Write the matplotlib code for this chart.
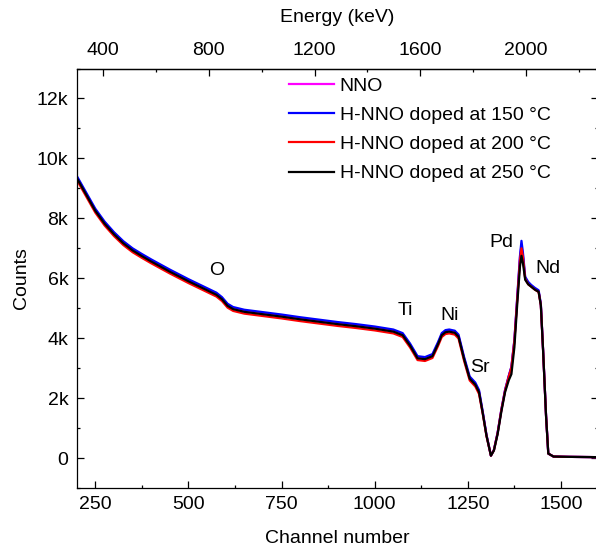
import matplotlib
matplotlib.use("Agg")
import matplotlib.pyplot as plt
from matplotlib.ticker import MultipleLocator

plt.rcParams['font.family'] = ['Liberation Sans', 'DejaVu Sans']
plt.rcParams['font.size'] = 14

# Channel positions
channel = [200, 225, 250, 275, 300, 325, 350, 375, 400, 450, 500, 550, 575, 590, 605, 620,
           650, 700, 750, 800, 850, 900, 950, 1000, 1050, 1075, 1095, 1115, 1135, 1155, 1170,
           1180, 1190, 1200, 1215, 1225, 1240, 1255, 1270, 1280, 1290, 1300, 1312, 1320, 1330,
           1340, 1350, 1360, 1367, 1375, 1383, 1390, 1394, 1398, 1404, 1412, 1420, 1430, 1440,
           1446, 1452, 1460, 1466, 1480, 1520, 1600]

nno = [9380, 8830, 8280, 7850, 7500, 7200, 6960, 6770, 6590, 6250, 5930, 5630, 5480, 5330, 5110, 5000,
       4910, 4830, 4750, 4660, 4580, 4500, 4430, 4350, 4250, 4130, 3780, 3360, 3330, 3430, 3830,
       4130, 4230, 4250, 4210, 4080, 3330, 2680, 2480, 2230, 1520, 770, 80, 270, 840,
       1610, 2260, 2740, 3040, 3920, 5400, 6700, 7100, 6750, 6000, 5840, 5750, 5650, 5570,
       5120, 3610, 1410, 150, 50, 40, 30]

hnno_150 = [9420, 8870, 8320, 7890, 7540, 7240, 7000, 6810, 6630, 6290, 5970, 5670, 5520, 5370, 5150, 5040,
            4950, 4870, 4790, 4700, 4620, 4540, 4470, 4390, 4290, 4170, 3820, 3400, 3370, 3470, 3870,
            4170, 4270, 4290, 4250, 4120, 3370, 2720, 2520, 2270, 1550, 780, 80, 270, 850,
            1620, 2280, 2750, 3050, 3950, 5450, 6750, 7250, 6850, 6050, 5880, 5780, 5680, 5600,
            5150, 3620, 1420, 150, 50, 40, 30]

hnno_200 = [9290, 8740, 8190, 7760, 7410, 7110, 6870, 6680, 6500, 6160, 5840, 5540, 5390, 5240, 5020, 4910,
            4820, 4740, 4660, 4570, 4490, 4410, 4340, 4260, 4160, 4040, 3690, 3270, 3240, 3340, 3740,
            4040, 4140, 4160, 4120, 3990, 3240, 2590, 2390, 2140, 1480, 740, 80, 260, 830,
            1600, 2250, 2720, 3020, 3900, 5350, 6600, 7000, 6700, 5980, 5800, 5720, 5620, 5540,
            5100, 3600, 1400, 150, 50, 40, 30]

hnno_250 = [9350, 8800, 8250, 7820, 7470, 7170, 6930, 6740, 6560, 6220, 5900, 5600, 5450, 5300, 5080, 4970,
            4880, 4800, 4720, 4630, 4550, 4470, 4400, 4320, 4220, 4100, 3750, 3330, 3300, 3400, 3800,
            4100, 4200, 4220, 4180, 4050, 3300, 2650, 2450, 2200, 1500, 750, 80, 250, 800,
            1550, 2200, 2600, 2800, 3700, 5200, 6400, 6750, 6500, 5950, 5800, 5720, 5620, 5550,
            5100, 3600, 1400, 150, 50, 40, 30]

series = [nno, hnno_150, hnno_200, hnno_250]
labels = ['NNO', 'H-NNO doped at 150 °C', 'H-NNO doped at 200 °C', 'H-NNO doped at 250 °C']
colors = ['#ff00ff', '#0000ff', '#ff0000', '#000000']

# element labels
elements = ['O', 'Ti', 'Ni', 'Sr', 'Pd', 'Nd']
element_ch = [576, 1083, 1201, 1283, 1339, 1465]
element_counts = [6270, 4930, 4770, 3030, 7180, 6330]

y_ticks = [0, 2000, 4000, 6000, 8000, 10000, 12000]
y_tick_labels = ['0', '2k', '4k', '6k', '8k', '10k', '12k']
x_ticks = [250, 500, 750, 1000, 1250, 1500]
energy_ticks = [400, 800, 1200, 1600, 2000]


def ch_to_energy(x):
    return 1.411 * x + 17


def energy_to_ch(e):
    return (e - 17) / 1.411


fig = plt.figure(figsize=(5.96, 5.5), dpi=100)
ax = fig.add_axes([0.1287, 0.1127, 0.875, 0.7627])

for y, c, lab in zip(series, colors, labels):
    ax.plot(channel, y, color=c, lw=1.6, label=lab)

for name, xc, yc in zip(elements, element_ch, element_counts):
    ax.text(xc, yc, name, ha='center', va='center', fontsize=14)

ax.set_xlim(200, 1600)
ax.set_ylim(-1000, 13000)
ax.set_xticks(x_ticks)
ax.xaxis.set_minor_locator(MultipleLocator(125))
ax.set_yticks(y_ticks)
ax.set_yticklabels(y_tick_labels)
ax.yaxis.set_minor_locator(MultipleLocator(1000))
ax.tick_params(which='both', direction='in', right=True, width=0.9)
ax.tick_params(which='major', length=5)
ax.tick_params(which='minor', length=2.4)
ax.tick_params(axis='x', pad=6)
ax.tick_params(axis='y', pad=6)
for s in ax.spines.values():
    s.set_linewidth(0.9)

ax.set_xlabel('Channel number', labelpad=12)
ax.set_ylabel('Counts', labelpad=5)

sec = ax.secondary_xaxis('top', functions=(ch_to_energy, energy_to_ch))
sec.set_xticks(energy_ticks)
sec.xaxis.set_minor_locator(MultipleLocator(200))
sec.tick_params(which='both', direction='in', width=0.9, pad=7)
sec.tick_params(which='major', length=5)
sec.tick_params(which='minor', length=2.4)
sec.spines['top'].set_linewidth(0.9)
sec.set_xlabel('Energy (keV)', labelpad=14)

fig.legend(loc='upper left', bbox_to_anchor=(289 / 596, 1 - 77 / 550), frameon=False,
           borderpad=0, borderaxespad=0, handlelength=2.3, handletextpad=0.3,
           labelspacing=0.6, fontsize=14)

fig.savefig('out.png', dpi=100)
